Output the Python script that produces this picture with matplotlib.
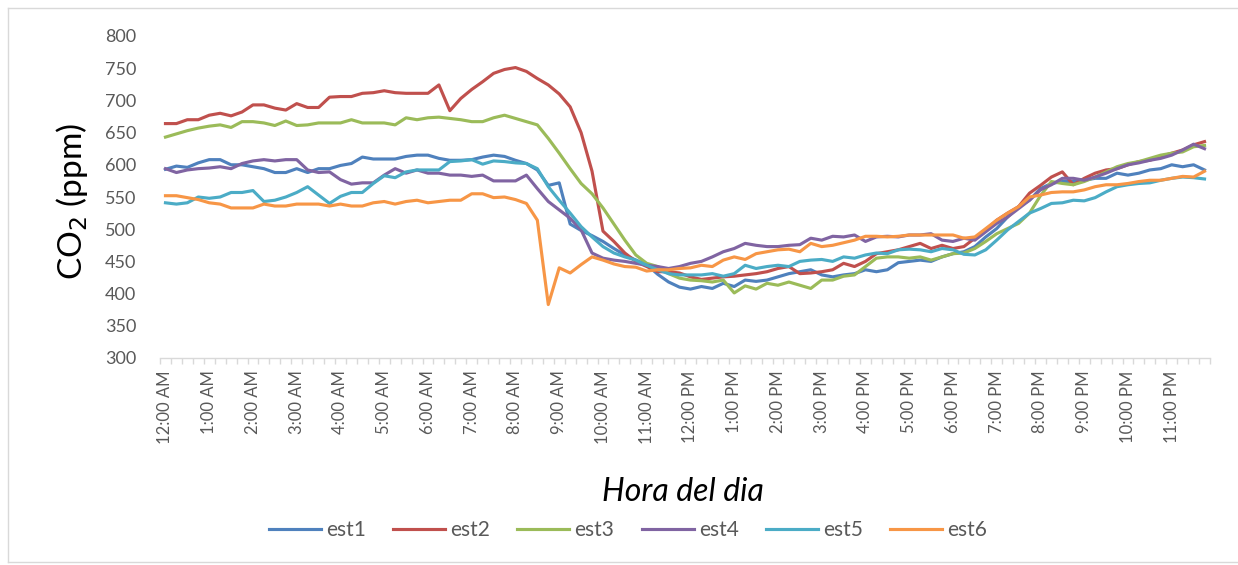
import numpy as np
import matplotlib
matplotlib.use("Agg")
import matplotlib.pyplot as plt
from matplotlib.lines import Line2D

plt.rcParams['font.family'] = ['Lato', 'DejaVu Sans']

hour_labels = ["12:00 AM", "1:00 AM", "2:00 AM", "3:00 AM", "4:00 AM", "5:00 AM",
               "6:00 AM", "7:00 AM", "8:00 AM", "9:00 AM", "10:00 AM", "11:00 AM",
               "12:00 PM", "1:00 PM", "2:00 PM", "3:00 PM", "4:00 PM", "5:00 PM",
               "6:00 PM", "7:00 PM", "8:00 PM", "9:00 PM", "10:00 PM", "11:00 PM"]

series_names = ["est1", "est2", "est3", "est4", "est5", "est6"]

# CO2 readings every 15 minutes (96 per station)
est1 = [593, 598, 596, 603, 608, 608, 600, 600, 597, 594, 588, 588, 594, 588, 594, 594,
        599, 602, 612, 609, 609, 609, 613, 615, 615, 610, 607, 607, 608, 612, 615, 613,
        607, 602, 592, 568, 572, 508, 498, 490, 481, 470, 460, 452, 445, 430, 418, 410,
        407, 411, 408, 416, 411, 421, 419, 421, 426, 431, 434, 437, 429, 426, 429, 431,
        437, 434, 437, 448, 450, 452, 450, 457, 462, 465, 473, 488, 501, 519, 535, 545,
        563, 571, 574, 574, 576, 579, 579, 587, 584, 587, 592, 594, 600, 597, 600, 592]
est2 = [664, 664, 670, 670, 677, 680, 676, 682, 693, 693, 688, 685, 695, 689, 689, 705,
        706, 706, 711, 712, 715, 712, 711, 711, 711, 724, 684, 703, 717, 729, 742, 748,
        751, 745, 734, 724, 710, 690, 650, 590, 497, 481, 463, 450, 442, 434, 434, 432,
        426, 422, 424, 426, 427, 429, 431, 434, 439, 442, 431, 432, 434, 437, 447, 442,
        450, 462, 465, 468, 473, 478, 470, 475, 470, 473, 486, 499, 514, 525, 535, 556,
        568, 581, 589, 569, 579, 587, 592, 594, 600, 605, 607, 613, 618, 623, 631, 636]
est3 = [643, 648, 653, 657, 660, 662, 658, 667, 667, 665, 661, 668, 661, 662, 665, 665,
        665, 670, 665, 665, 665, 662, 673, 670, 673, 674, 672, 670, 667, 667, 673, 677,
        672, 667, 662, 641, 618, 594, 571, 555, 533, 508, 483, 460, 447, 442, 431, 424,
        421, 420, 418, 421, 401, 412, 407, 416, 413, 418, 413, 408, 421, 421, 427, 429,
        442, 455, 457, 457, 455, 457, 452, 457, 462, 463, 470, 481, 493, 501, 509, 525,
        552, 574, 571, 569, 574, 581, 589, 597, 602, 605, 610, 615, 618, 620, 628, 630]
est4 = [594, 588, 592, 594, 595, 597, 594, 602, 606, 608, 606, 608, 608, 592, 588, 589,
        577, 570, 572, 572, 584, 594, 587, 592, 587, 587, 584, 584, 582, 584, 575, 575,
        575, 584, 563, 543, 530, 517, 499, 463, 455, 452, 450, 447, 444, 442, 439, 442,
        447, 450, 457, 465, 470, 478, 475, 473, 473, 475, 476, 486, 483, 489, 488, 491,
        481, 488, 489, 488, 491, 491, 493, 483, 481, 486, 483, 496, 509, 519, 532, 545,
        561, 569, 579, 579, 576, 581, 587, 594, 600, 603, 607, 610, 615, 623, 632, 625]
est5 = [541, 539, 541, 550, 548, 550, 557, 557, 560, 543, 545, 550, 557, 566, 553, 540,
        551, 557, 557, 571, 583, 580, 589, 592, 592, 592, 605, 606, 608, 601, 606, 605,
        603, 602, 594, 566, 545, 525, 504, 488, 473, 463, 457, 452, 444, 437, 431, 429,
        429, 429, 431, 427, 431, 444, 439, 442, 444, 442, 450, 452, 453, 450, 457, 455,
        460, 463, 462, 468, 469, 468, 465, 470, 468, 461, 460, 468, 483, 499, 512, 525,
        532, 540, 541, 545, 544, 549, 558, 566, 569, 571, 572, 576, 579, 581, 580, 578]
est6 = [552, 552, 549, 546, 541, 539, 533, 533, 533, 539, 536, 536, 539, 539, 539, 536,
        539, 536, 536, 541, 543, 539, 543, 545, 541, 543, 545, 545, 555, 555, 549, 550,
        546, 540, 514, 383, 440, 432, 445, 457, 452, 446, 442, 441, 435, 437, 437, 439,
        440, 444, 442, 452, 457, 453, 462, 465, 468, 469, 465, 478, 473, 475, 479, 483,
        489, 489, 488, 489, 491, 491, 491, 491, 491, 486, 488, 501, 514, 525, 535, 550,
        553, 557, 558, 558, 561, 566, 569, 569, 571, 574, 576, 576, 579, 582, 581, 590]

colors = ["#4F81BD", "#C0504D", "#9BBB59", "#8064A2", "#4BACC6", "#F79646"]
all_series = [est1, est2, est3, est4, est5, est6]

W, H = 1238, 565
fig = plt.figure(figsize=(W / 100, H / 100), dpi=100)
ax = fig.add_axes([160 / W, 1 - 358 / H, 1050 / W, 322 / H])

x = np.arange(len(est1))
for name, vals, c in zip(series_names, all_series, colors):
    ax.plot(x, vals, color=c, lw=2.25, label=name, solid_joinstyle='round')

ax.set_xlim(-0.5, len(est1) - 0.5)
ax.set_ylim(300, 800)
ax.set_yticks(np.arange(300, 801, 50))

ax.set_xticks(np.arange(0, len(est1), 4))
ax.set_xticklabels(hour_labels, rotation=90, fontsize=12, color="#595959")
ax.set_xticks(np.arange(-0.5, len(est1), 1), minor=True)
ax.tick_params(axis='x', which='major', length=0, pad=9)
ax.tick_params(axis='x', which='minor', length=4, color="#D9D9D9", width=1)
ax.tick_params(axis='y', length=0, pad=17, labelsize=13, labelcolor="#595959")

for s in ['top', 'right', 'left']:
    ax.spines[s].set_visible(False)
ax.spines['bottom'].set_color("#D9D9D9")
ax.spines['bottom'].set_linewidth(1)

fig.text(72 / W, 1 - 202 / H, "CO$_2$ (ppm)", rotation=90, fontsize=24,
         ha='center', va='center', color="#000000")
fig.text(683 / W, 1 - 492 / H, "Hora del dia", fontsize=23, style='italic',
         ha='center', va='center', color="#000000")

leg = fig.legend(loc='center', bbox_to_anchor=(628 / W, 1 - 530 / H), ncol=6,
                 frameon=False, fontsize=15, handlelength=2.5, handletextpad=0.25,
                 columnspacing=1.3)
for t in leg.get_texts():
    t.set_color("#595959")

bc = "#D9D9D9"
fig.add_artist(Line2D([8 / W, 8 / W], [1 - 8 / H, 1 - 562 / H], color=bc, lw=1))
fig.add_artist(Line2D([8 / W, 1.0], [1 - 8 / H, 1 - 8 / H], color=bc, lw=1))
fig.add_artist(Line2D([8 / W, 1.0], [1 - 562 / H, 1 - 562 / H], color=bc, lw=1))

fig.savefig("out.png", dpi=100, facecolor="white")
